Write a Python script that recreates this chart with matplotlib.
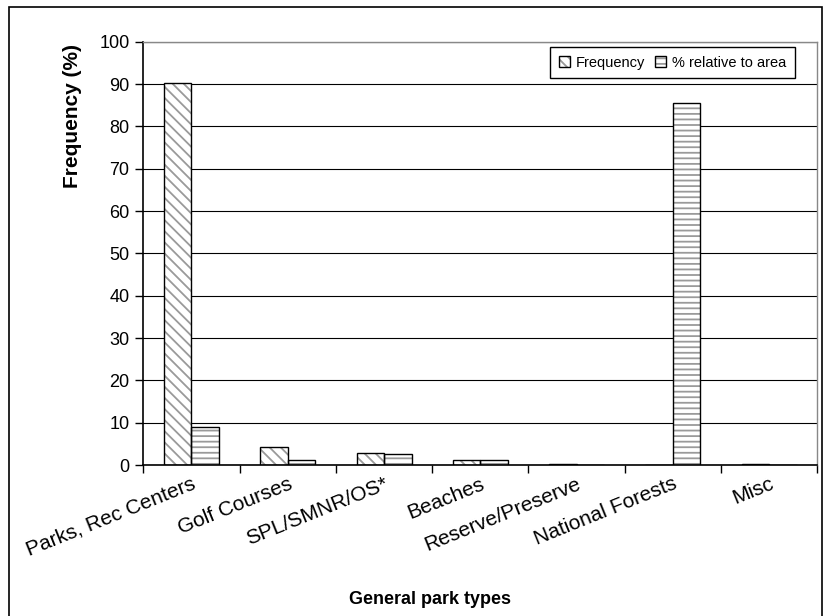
import matplotlib
matplotlib.use("Agg")
import matplotlib.pyplot as plt
import numpy as np
from matplotlib.patches import Rectangle
from matplotlib.legend_handler import HandlerTuple

categories = ["Parks, Rec Centers", "Golf Courses", "SPL/SMNR/OS*", "Beaches",
              "Reserve/Preserve", "National Forests", "Misc"]
frequency = [90.2, 4.3, 2.9, 1.2, 0.3, 0.0, 0.3]
relative_area = [9.0, 1.2, 2.6, 1.2, 0.0, 85.5, 0.0]
series_names = ["Frequency", "% relative to area"]
yticks = list(range(0, 101, 10))

plt.rcParams['font.family'] = ['Liberation Sans', 'DejaVu Sans']
plt.rcParams['hatch.linewidth'] = 1.3

W, H = 824, 616
fig = plt.figure(figsize=(W / 100, H / 100), dpi=100)
ax = fig.add_axes([143.3 / W, (H - 465) / H, 674 / W, 423.3 / H])

n = len(categories)
x = np.arange(n)
bw = 1 / 3.5
hatch_col = '#9a9a9a'
hatches = ['\\\\\\', '---']

for vals, off, hatch in [(frequency, -bw / 2, hatches[0]), (relative_area, bw / 2, hatches[1])]:
    ax.bar(x + off, vals, bw, color='white', edgecolor=hatch_col, hatch=hatch, linewidth=0, zorder=2)
    ax.bar(x + off, vals, bw, fill=False, edgecolor='black', linewidth=1.0, zorder=3)

ax.set_xlim(-0.5, n - 0.5)
ax.set_ylim(0, 100)
ax.set_yticks(yticks)
ax.set_yticklabels([str(v) for v in yticks], fontsize=13)
ax.yaxis.grid(True, color='black', linewidth=0.8, zorder=0)
ax.set_axisbelow(True)

ax.set_xticks(np.arange(n + 1) - 0.5)
ax.set_xticklabels([])
ax.tick_params(axis='x', direction='out', length=6, width=1, color='black')
ax.tick_params(axis='y', direction='out', length=6, width=1, color='black', pad=4)
for i, lab in enumerate(categories):
    ax.text(x[i], -2.2, lab, rotation=22, ha='right', va='top',
            rotation_mode='anchor', fontsize=15, transform=ax.transData)

for s in ['top', 'right']:
    ax.spines[s].set_color('#888888')
    ax.spines[s].set_linewidth(1.0)
for s in ['left', 'bottom']:
    ax.spines[s].set_color('black')
    ax.spines[s].set_linewidth(1.2)

# legend
def handle(h):
    return (plt.Rectangle((0, 0), 1, 1, facecolor='white', edgecolor=hatch_col, hatch=h, linewidth=0),
            plt.Rectangle((0, 0), 1, 1, fill=False, edgecolor='black', linewidth=1.0))

leg = ax.legend([handle(hatches[0]), handle(hatches[1])], series_names,
                handler_map={tuple: HandlerTuple(ndivide=1, pad=0)},
                loc='upper right', bbox_to_anchor=(0.967, 0.9875), ncol=2, fontsize=10.5,
                frameon=True, fancybox=False, edgecolor='black', framealpha=1,
                handlelength=0.75, handleheight=0.75, handletextpad=0.4, columnspacing=0.7,
                borderpad=0.6, borderaxespad=0)
leg.get_frame().set_linewidth(1.0)

fig.text(73 / W, 1 - 116 / H, "Frequency (%)", rotation=90, ha='center', va='center',
         fontsize=15, fontweight='bold')
fig.text(430 / W, 1 - 600 / H, "General park types", ha='center', va='center',
         fontsize=13, fontweight='bold')

fig.patches.append(Rectangle((9 / W, -0.01), 813 / W, (H - 7) / H + 0.01, transform=fig.transFigure,
                             fill=False, edgecolor='black', linewidth=1.2))

fig.savefig("out.png", dpi=100)
